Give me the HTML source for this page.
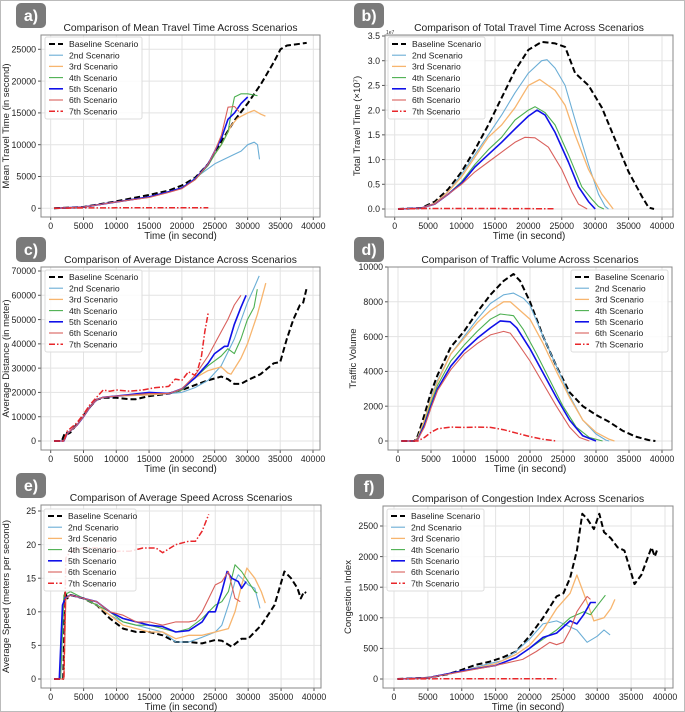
<!DOCTYPE html>
<html><head><meta charset="utf-8"><style>
body{margin:0;background:#fff;}
svg{display:block;font-family:"Liberation Sans",sans-serif;}
</style></head><body>
<svg id="fig" width="685" height="712" viewBox="0 0 685 712" xmlns="http://www.w3.org/2000/svg">
<rect x="0.5" y="0.5" width="684" height="711" fill="#fff" stroke="#bbb"/>
</svg>
<script>
const xTicks=[0,5000,10000,15000,20000,25000,30000,35000,40000];
const names=["Baseline Scenario","2nd Scenario","3rd Scenario","4th Scenario","5th Scenario","6th Scenario","7th Scenario"];
const yTicksA=[0,5000,10000,15000,20000,25000];
const yTicksB=[0,0.5,1,1.5,2,2.5,3,3.5];
const yTicksC=[0,10000,20000,30000,40000,50000,60000,70000];
const yTicksD=[0,2000,4000,6000,8000,10000];
const yTicksE=[0,5,10,15,20,25];
const yTicksF=[0,500,1000,1500,2000,2500];

// Panel a: mean travel time
const a1=[[500,0],[5000,200],[10000,1100],[15000,2100],[18000,2800],[20000,3600],[22000,4800],[24000,7000],[26000,10500],[28000,13800],[30000,16500],[32000,19500],[34000,23000],[35000,25000],[36000,25600],[39000,26000]];
const a2=[[500,0],[5000,200],[10000,1000],[15000,1800],[20000,3200],[23000,5500],[25000,7000],[28000,8500],[29000,9000],[30000,10000],[31000,10400],[31500,10000],[31800,7700]];
const a3=[[500,0],[5000,200],[10000,1000],[15000,1800],[18000,2600],[20000,3200],[22000,4500],[24000,6800],[25000,8500],[26000,10000],[27500,13000],[28500,14200],[30000,15000],[31000,15400],[32000,14800],[32700,14500]];
const a4=[[500,0],[5000,200],[10000,1000],[15000,1800],[18000,2600],[20000,3200],[22000,4500],[24000,6800],[25000,8500],[26000,10000],[27000,12000],[27500,15000],[28000,17500],[29000,18000],[30000,18000],[31000,17800],[31500,17700]];
const a5=[[500,0],[5000,200],[10000,1000],[15000,1800],[18000,2600],[20000,3200],[22000,4600],[24000,7000],[25000,9000],[26000,11000],[27000,14000],[28000,15000],[29000,16500],[30000,17500]];
const a6=[[500,0],[5000,200],[10000,1000],[15000,1700],[18000,2500],[20000,3100],[22000,4500],[24000,7000],[25000,9000],[26000,11500],[27000,15900],[28000,16000],[28700,15200]];
const a7=[[500,0],[5000,60],[10000,80],[15000,90],[20000,100],[24000,100]];
// Panel b: total travel time (x1e7)
const b1=[[500,0],[4000,0.02],[6000,0.15],[8000,0.4],[10000,0.75],[12000,1.2],[14000,1.7],[16000,2.25],[18000,2.8],[20000,3.22],[22000,3.38],[24000,3.35],[25500,3.28],[27000,2.75],[29000,2.5],[31000,2.05],[33000,1.4],[35000,0.75],[37000,0.25],[38000,0.03],[38800,0]];
const b2=[[500,0],[4000,0.02],[6000,0.12],[8000,0.35],[10000,0.7],[12000,1.1],[14000,1.5],[16000,1.9],[18000,2.35],[20000,2.75],[22000,3.0],[22800,3.02],[24000,2.85],[25500,2.5],[27000,1.8],[29000,0.9],[30500,0.3],[31500,0.05],[32000,0]];
const b3=[[500,0],[4000,0.02],[6000,0.12],[8000,0.35],[10000,0.65],[12000,1.05],[14000,1.45],[16000,1.7],[18000,2.05],[20000,2.5],[21700,2.62],[24000,2.4],[25500,2.1],[27000,1.5],[29000,0.8],[31000,0.3],[32700,0]];
const b4=[[500,0],[4000,0.02],[6000,0.1],[8000,0.3],[10000,0.55],[12000,0.9],[14000,1.2],[16000,1.45],[18000,1.8],[20000,2.0],[21000,2.07],[22500,1.95],[24000,1.7],[26000,1.1],[28000,0.45],[29500,0.2],[30500,0.05],[31300,0]];
const b5=[[500,0],[4000,0.02],[6000,0.1],[8000,0.3],[10000,0.52],[12000,0.85],[14000,1.1],[16000,1.35],[18000,1.62],[20000,1.88],[21300,2.0],[22500,1.9],[24000,1.55],[26000,0.95],[27500,0.45],[29000,0.15],[30000,0]];
const b6=[[500,0],[4000,0.02],[6000,0.1],[8000,0.3],[10000,0.5],[12000,0.75],[14000,0.95],[16000,1.15],[18000,1.35],[19500,1.45],[21000,1.44],[23000,1.25],[25000,0.8],[26500,0.35],[27500,0.1],[28800,0]];
const b7=[[500,0],[5000,0.01],[15000,0.01],[24000,0.005]];
// Panel c: average distance
const c1=[[500,0],[1700,0],[2200,3500],[2700,3000],[3000,3500],[4000,7000],[5000,10500],[6000,14000],[7000,17000],[8000,17800],[10000,17800],[12000,17200],[13000,17200],[15000,18500],[18000,19500],[20000,21000],[22000,23000],[24000,25000],[26000,26500],[27000,25500],[28000,23500],[29000,23500],[30000,25000],[32000,27500],[34000,32000],[35000,32500],[36000,42000],[37000,50000],[38000,56000],[38500,57000],[39000,62500]];
const c2=[[500,0],[1500,0],[2000,0],[2500,3000],[4000,6500],[5000,10000],[6000,14000],[7000,17000],[8000,18000],[10000,18500],[15000,19000],[18000,19500],[20000,20000],[22000,22000],[24000,25000],[26000,31000],[28000,42000],[30000,57000],[31000,63000],[31800,68000]];
const c3=[[500,0],[1500,0],[2000,0],[2500,3000],[4000,6500],[5000,10000],[6000,14000],[7000,17000],[8000,18000],[10000,18500],[15000,19000],[18000,19500],[20000,21000],[22000,26000],[24000,29000],[26000,30500],[27000,28000],[27500,27500],[29000,34000],[30000,40000],[31500,52000],[32800,65000]];
const c4=[[500,0],[1500,0],[2000,0],[2500,3000],[4000,6500],[5000,10000],[6000,14000],[7000,17000],[8000,18000],[10000,18500],[15000,19500],[18000,19500],[20000,21000],[22000,26000],[24000,31000],[26000,35000],[27000,38000],[28000,36000],[29000,42000],[30000,50000],[31000,55000],[31500,62500]];
const c5=[[500,0],[1500,0],[2000,0],[2500,3000],[4000,6500],[5000,10000],[6000,14000],[7000,17000],[8000,18000],[10000,18500],[15000,20000],[18000,19500],[20000,21500],[22000,26000],[24000,32000],[25000,36000],[26500,39000],[27000,39000],[28000,48000],[29000,55000],[29800,60000]];
const c6=[[500,0],[1500,0],[2000,0],[2500,3000],[4000,6500],[5000,10000],[6000,14000],[7000,17000],[8000,18000],[10000,18500],[15000,19500],[18000,19500],[20000,21500],[22000,27000],[24000,35000],[26000,45000],[27000,50000],[28000,56000],[29000,60000]];
const c7=[[500,0],[2000,0],[2500,4000],[4000,7500],[5000,11000],[6000,15000],[7000,18000],[8000,21000],[9000,20500],[10000,21000],[12000,20500],[14000,21000],[16000,22000],[18000,22500],[19000,25500],[20000,25000],[21000,28500],[22000,27000],[22500,30000],[23000,35000],[23500,45000],[24000,52500]];
// Panel d: traffic volume
const d1=[[500,0],[2500,0],[3000,300],[4000,1500],[5000,2800],[6000,3800],[7000,4600],[8000,5400],[10000,6300],[12000,7400],[14000,8400],[16000,9200],[17500,9600],[18500,9200],[20000,8000],[22000,6000],[24000,4300],[26000,2800],[28000,2000],[30000,1500],[32000,1100],[34000,600],[36000,250],[38000,50],[39000,0]];
const d2=[[500,0],[2500,0],[3000,200],[4000,1200],[5000,2500],[6000,3500],[8000,5000],[10000,6000],[12000,7000],[14000,7900],[16000,8400],[17500,8500],[19000,8200],[20000,7800],[22000,6000],[24000,4300],[26000,2600],[28000,1200],[30000,400],[31500,50],[32000,0]];
const d3=[[500,0],[2500,0],[3000,200],[4000,1200],[5000,2400],[6000,3400],[8000,5000],[10000,5900],[12000,6800],[14000,7500],[16000,8000],[17000,8000],[20000,7000],[22000,5600],[24000,4000],[26000,2500],[28000,1200],[30000,500],[32000,100],[32800,0]];
const d4=[[500,0],[2500,0],[3000,150],[4000,1000],[5000,2200],[6000,3200],[8000,4600],[10000,5500],[12000,6300],[14000,7000],[15500,7300],[17500,7200],[19000,6400],[21000,5000],[23000,3500],[25000,2000],[27000,800],[29000,200],[31000,0]];
const d5=[[500,0],[2500,0],[3000,100],[4000,900],[5000,2000],[6000,3000],[8000,4300],[10000,5200],[12000,5900],[14000,6500],[15500,6900],[17000,6850],[18000,6500],[20000,5300],[22000,3900],[24000,2500],[26000,1200],[28000,300],[30000,0]];
const d6=[[500,0],[2500,0],[3000,100],[4000,800],[5000,1900],[6000,2900],[8000,4100],[10000,5000],[12000,5600],[14000,6100],[16000,6300],[17000,6200],[18000,5700],[20000,4600],[22000,3300],[24000,2000],[26000,800],[27500,200],[29000,0]];
const d7=[[500,0],[3000,0],[4000,200],[5000,500],[6000,700],[8000,800],[10000,780],[12000,800],[14000,780],[16000,650],[18000,450],[20000,250],[22000,100],[24000,0]];
// Panel e: average speed
const e1=[[500,0],[1900,0],[2200,13],[2500,12],[3000,12.5],[5000,12],[7000,11],[9000,9],[11000,7.5],[13000,7],[15000,7],[17000,6.5],[19000,5.5],[21000,5.5],[23000,5.3],[25000,5.8],[26000,5.7],[27500,4.8],[29000,6],[30000,6],[32000,8],[34000,11],[35500,16],[36500,15],[37500,13.5],[38000,12],[38500,13],[38800,12.8]];
const e2=[[500,0],[1500,0],[2000,12],[3000,12.5],[5000,12],[7000,11],[9000,9.5],[11000,8.5],[13000,8],[15000,7.5],[17000,7],[19000,5.5],[21000,5.5],[23000,6.2],[25000,7],[26000,8],[27000,11],[28000,14.5],[28500,15.5],[30000,14],[31000,13.5],[31800,10.5]];
const e3=[[500,0],[2000,0],[2300,12],[3000,12.5],[5000,12],[7000,11],[9000,9.5],[11000,8],[13000,7.5],[15000,7],[17000,7],[19000,6],[21000,6.5],[23000,6.5],[25000,7],[27000,7.5],[28000,10],[29000,14],[29800,16.5],[31000,15],[32000,13],[32600,11.3]];
const e4=[[500,0],[1500,0],[2000,12.5],[3000,13],[5000,12],[7000,11],[9000,10],[11000,8.5],[13000,8],[15000,8],[17000,7.5],[19000,7],[21000,7.5],[23000,9],[25000,11],[26000,11.5],[27000,13],[28000,17],[29000,16],[30000,14.5],[31000,13],[31400,12.8]];
const e5=[[500,0],[1300,0],[1800,11],[2200,12],[3000,12.5],[5000,12],[7000,11.5],[9000,10],[11000,9],[13000,8.5],[15000,8],[17000,7.8],[19000,7],[21000,7.2],[23000,8.5],[24000,10],[25000,10],[26000,13],[26800,16],[27500,15],[28500,14.5],[29000,13.5],[29700,14.5]];
const e6=[[500,0],[2000,0],[2300,12],[3000,12.5],[5000,12],[7000,11.5],[9000,10],[11000,9.5],[13000,8.5],[15000,8.5],[17000,8],[19000,8.5],[21000,8.5],[22000,8.7],[23000,10],[24000,12],[25000,14],[26000,14.5],[27000,16],[28000,12],[28800,11.5]];
const e7=[[500,0],[2000,0],[2300,18],[3000,19],[5000,19.5],[8000,19.5],[10000,19],[12000,19],[14000,19.5],[16000,19.5],[17000,18.8],[19000,20],[21000,20.5],[22000,20.5],[23000,22],[24000,24.5]];
// Panel f: congestion index
const f1=[[500,0],[5000,20],[8000,80],[10000,150],[12000,230],[14000,280],[16000,350],[18000,450],[20000,700],[22000,1000],[24000,1350],[25000,1400],[26000,1650],[27000,2100],[27800,2700],[28500,2620],[29500,2450],[30300,2700],[31000,2400],[32000,2300],[33000,2150],[34000,2100],[35500,1550],[36500,1700],[38000,2150],[38500,2000],[38800,2100]];
const f2=[[500,0],[5000,20],[8000,80],[10000,130],[14000,250],[16000,300],[18000,450],[20000,650],[22000,900],[24000,950],[25000,900],[27000,800],[28500,600],[30000,700],[31000,800],[31900,720]];
const f3=[[500,0],[5000,20],[10000,130],[15000,250],[18000,400],[20000,550],[22000,800],[24000,1150],[26000,1400],[27000,1700],[28000,1400],[29500,950],[31000,1000],[32000,1150],[32600,1300]];
const f4=[[500,0],[5000,20],[10000,130],[15000,220],[18000,350],[20000,500],[22000,650],[24000,800],[26000,1000],[28000,1100],[29000,1050],[30000,1200],[31200,1370]];
const f5=[[500,0],[5000,20],[10000,130],[15000,220],[18000,350],[20000,500],[22000,680],[24000,750],[26000,950],[27000,900],[28000,1050],[29000,1250],[29800,1250]];
const f6=[[500,0],[5000,20],[10000,120],[15000,220],[19000,320],[21000,450],[23000,600],[24000,560],[25000,600],[26000,800],[27000,1100],[28500,1350],[29000,1300]];
const f7=[[500,0],[10000,5],[24000,5]];

const styles=[
 {c:"#000",w:2,d:"6,3"},{c:"#6baed6",w:1.1,d:""},{c:"#f7b56e",w:1.3,d:""},{c:"#4caf50",w:1.1,d:""},
 {c:"#1010e8",w:1.6,d:""},{c:"#d9605c",w:1.1,d:""},{c:"#e8262a",w:1.5,d:"6,2,1.5,2"}];

const panels=[
 {id:"a",title:"Comparison of Mean Travel Time Across Scenarios",yl:"Mean Travel Time (in second)",L:41,T:35,R:320,B:217,x0:50.7,x40:313.3,y0:208.3,yt:49.3,ytv:25000,yt_:yTicksA,series:[a1,a2,a3,a4,a5,a6,a7],lg:[45,37,97,82],tag:[16,3]},
 {id:"b",title:"Comparison of Total Travel Time Across Scenarios",yl:"Total Travel Time (×10⁷)",L:385,T:35,R:673,B:217,x0:394.7,x40:662,y0:209,yt:36,ytv:3.5,yt_:yTicksB,series:[b1,b2,b3,b4,b5,b6,b7],lg:[388,37,97,82],tag:[354,3],dec:1,exp:true},
 {id:"c",title:"Comparison of Average Distance Across Scenarios",yl:"Average Distance (in meter)",L:41,T:267,R:320,B:450,x0:50.7,x40:313,y0:441,yt:271,ytv:70000,yt_:yTicksC,series:[c1,c2,c3,c4,c5,c6,c7],lg:[45,270,97,82],tag:[16,237]},
 {id:"d",title:"Comparison of Traffic Volume Across Scenarios",yl:"Traffic Volume",L:388,T:267,R:672,B:450,x0:398,x40:662,y0:441,yt:267,ytv:10000,yt_:yTicksD,series:[d1,d2,d3,d4,d5,d6,d7],lg:[571,270,97,82],tag:[354,237]},
 {id:"e",title:"Comparison of Average Speed Across Scenarios",yl:"Average Speed (meters per second)",L:41,T:505,R:321,B:688,x0:50.7,x40:314,y0:679,yt:511,ytv:25,yt_:yTicksE,series:[e1,e2,e3,e4,e5,e6,e7],lg:[44,509,92,82],tag:[16,473]},
 {id:"f",title:"Comparison of Congestion Index Across Scenarios",yl:"Congestion Index",L:383,T:506,R:673,B:688,x0:394,x40:665,y0:679,yt:526,ytv:2500,yt_:yTicksF,series:[f1,f2,f3,f4,f5,f6,f7],lg:[387,509,97,82],tag:[354,474]}
];
const NS="http://www.w3.org/2000/svg";
const svg=document.getElementById("fig");
function mk(tag,attrs,parent,text){const e=document.createElementNS(NS,tag);for(const k in attrs)e.setAttribute(k,attrs[k]);if(text!==undefined)e.textContent=text;parent.appendChild(e);return e;}
panels.forEach(p=>{
 const g=mk("g",{},svg);
 
 
 const sx=v=>p.x0+(p.x40-p.x0)*v/40000;
 const sy=v=>p.y0+(p.yt-p.y0)*v/p.ytv;
 const tg=mk("rect",{x:p.tag[0],y:p.tag[1],width:30,height:25,rx:5,fill:"#7a7a7a"},g);
 
 
 const tt=mk("text",{x:p.tag[0]+15,y:p.tag[1]+18,"text-anchor":"middle","font-size":"16","font-weight":"bold",fill:"#fff"},g,p.id+")");
 
 
 const ti=mk("text",{x:(p.L+p.R)/2,y:p.T-4,"text-anchor":"middle","font-size":"10.3",fill:"#222"},g,p.title);
 
 
 mk("rect",{x:p.L,y:p.T,width:p.R-p.L,height:p.B-p.T,fill:"#fff"},g);
 xTicks.forEach(t=>{const x=sx(t);
  mk("line",{x1:x,x2:x,y1:p.T,y2:p.B,stroke:"#e3e3e3","stroke-width":1},g);
  mk("line",{x1:x,x2:x,y1:p.B,y2:p.B+3,stroke:"#555"},g);
  const lb=mk("text",{x:x,y:p.B+12,"text-anchor":"middle","font-size":"8.8",fill:"#222"},g,String(t));
  
  
 });
 p.yt_.forEach(t=>{const y=sy(t);
  mk("line",{x1:p.L,x2:p.R,y1:y,y2:y,stroke:"#e3e3e3","stroke-width":1},g);
  mk("line",{x1:p.L-3,x2:p.L,y1:y,y2:y,stroke:"#555"},g);
  const lb=mk("text",{x:p.L-5,y:y+3.2,"text-anchor":"end","font-size":"8.8",fill:"#222"},g,p.dec?t.toFixed(1):String(t));
  
  
 });
 if(p.exp){mk("text",{x:p.L+1,y:p.T-1,"font-size":"5",fill:"#333"},g,"1e7");}
 const fr=mk("rect",{x:p.L,y:p.T,width:p.R-p.L,height:p.B-p.T,fill:"none",stroke:"#888","stroke-width":1},g);
 
 
 const xl=mk("text",{x:(p.L+p.R)/2,y:p.B+22,"text-anchor":"middle","font-size":"9.8",fill:"#222"},g,"Time (in second)");
 
 
 const yx=p.L-(p.dec?25:32), ym=(p.T+p.B)/2;
 const yl=mk("text",{x:yx,y:ym,"text-anchor":"middle","font-size":"9.5",fill:"#222",transform:`rotate(-90 ${yx} ${ym})`},g,p.yl);
 
 
 p.series.forEach((s,i)=>{const st=styles[i];
  const d=s.map((pt,j)=>(j?"L":"M")+sx(pt[0]).toFixed(1)+","+sy(pt[1]).toFixed(1)).join("");
  const pa=mk("path",{d:d,fill:"none",stroke:st.c,"stroke-width":st.w,"stroke-dasharray":st.d,"stroke-linejoin":"round"},g);
  
  
 });
 const [lx,ly,lw,lh]=p.lg;
 const lg=mk("g",{},g);
 
 
 mk("rect",{x:lx,y:ly,width:lw,height:lh,rx:2,fill:"#fff","fill-opacity":0.85,stroke:"#ddd"},lg);
 names.forEach((n,i)=>{const st=styles[i];const yy=ly+7+i*11.2;
  mk("line",{x1:lx+4,x2:lx+18,y1:yy,y2:yy,stroke:st.c,"stroke-width":st.w,"stroke-dasharray":st.d},lg);
  const t=mk("text",{x:lx+24,y:yy+3.2,"font-size":"8.6",fill:"#222"},lg,n);
  
  
 });
});
</script>
</body></html>
